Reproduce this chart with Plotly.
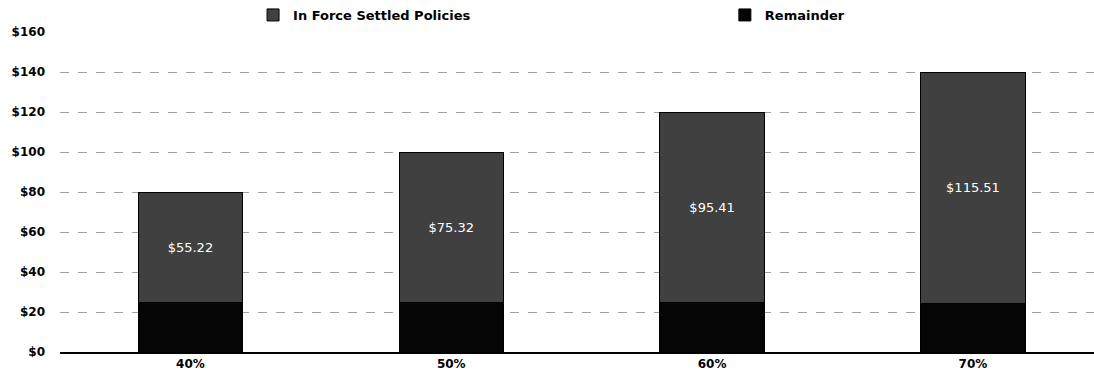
import plotly.graph_objects as go

# Settlement rate scenarios and the two stacked components ($)
categories = ["40%", "50%", "60%", "70%"]
in_force_settled = [55.22, 75.32, 95.41, 115.51]
remainder = [24.78, 24.68, 24.59, 24.49]
y_tick_values = [0, 20, 40, 60, 80, 100, 120, 140, 160]
y_tick_labels = ["$0", "$20", "$40", "$60", "$80", "$100", "$120", "$140", "$160"]

font_family = "DejaVu Sans, Verdana, sans-serif"
legend_font = dict(family=font_family, size=13, color="#000000", weight="bold")
tick_font = dict(family=font_family, size=12, color="#000000", weight="bold")

fig = go.Figure()

# bottom segment
fig.add_trace(go.Bar(
    name="Remainder",
    x=categories,
    y=remainder,
    marker=dict(color="#050505", line=dict(color="#000000", width=1)),
    legend="legend2",
    hoverinfo="skip",
))

# top segment with value labels
fig.add_trace(go.Bar(
    name="In Force Settled Policies",
    x=categories,
    y=in_force_settled,
    text=[f"${v:.2f}" for v in in_force_settled],
    textposition="inside",
    insidetextanchor="middle",
    textangle=0,
    textfont=dict(family=font_family, size=13, color="#ffffff"),
    marker=dict(color="#404040", line=dict(color="#000000", width=1)),
    legend="legend",
    hoverinfo="skip",
))

fig.update_layout(
    barmode="stack",
    bargap=0.6,
    width=1094,
    height=381,
    margin=dict(l=60, r=0, t=32, b=29),
    paper_bgcolor="#ffffff",
    plot_bgcolor="#ffffff",
    font=dict(family=font_family, size=11, color="#000000"),
    showlegend=True,
    legend=dict(
        orientation="h",
        x=0.1867, xanchor="left",
        y=1.10, yanchor="top",
        itemwidth=30,
        font=legend_font,
        bgcolor="rgba(0,0,0,0)",
    ),
    legend2=dict(
        orientation="h",
        x=0.643, xanchor="left",
        y=1.10, yanchor="top",
        itemwidth=30,
        font=legend_font,
        bgcolor="rgba(0,0,0,0)",
    ),
    uniformtext=dict(minsize=13, mode="show"),
)

fig.update_xaxes(
    range=[-0.5, 3.464],
    showgrid=False,
    showline=True,
    linecolor="#000000",
    linewidth=2,
    ticks="",
    tickfont=tick_font,
    fixedrange=True,
)

fig.update_yaxes(
    range=[0, 160],
    tickvals=y_tick_values,
    ticktext=y_tick_labels,
    showgrid=True,
    gridcolor="#a0a0a0",
    gridwidth=1,
    griddash="dash",
    zeroline=False,
    showline=False,
    ticks="",
    ticklabelstandoff=14,
    tickfont=tick_font,
    fixedrange=True,
)

fig.write_html("out.html")
